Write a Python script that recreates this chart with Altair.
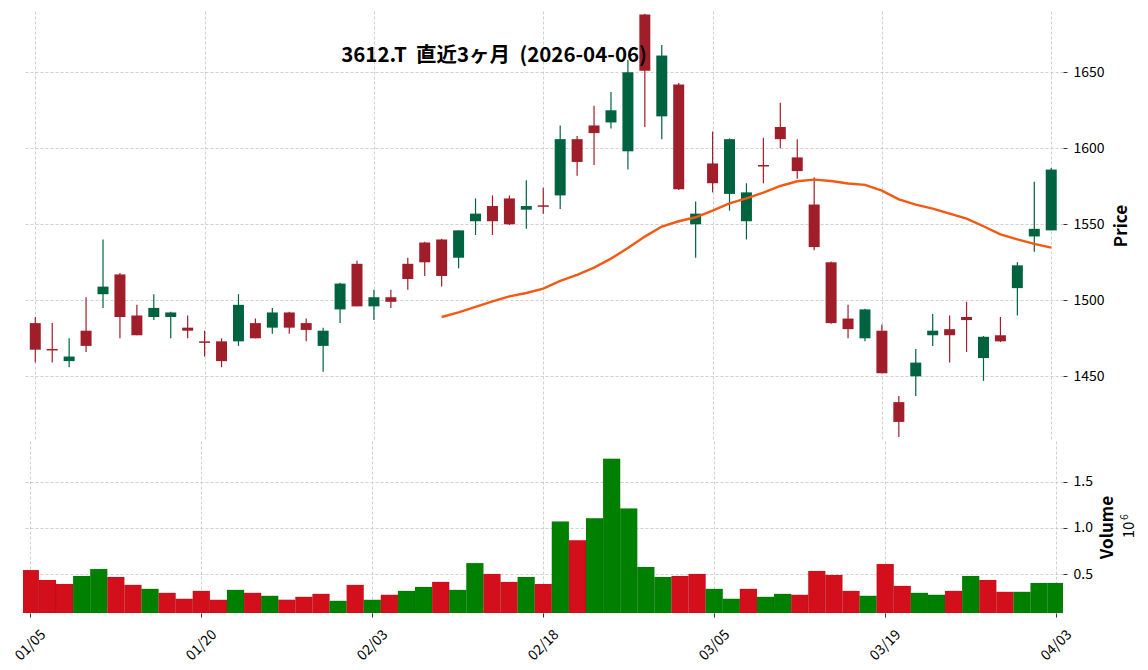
import altair as alt
import pandas as pd

# ---------------- data ----------------
dates = ["01/05", "01/06", "01/07", "01/08", "01/09", "01/13", "01/14", "01/15", "01/16", "01/19",
         "01/20", "01/21", "01/22", "01/23", "01/26", "01/27", "01/28", "01/29", "01/30", "02/02",
         "02/03", "02/04", "02/05", "02/06", "02/09", "02/10", "02/12", "02/13", "02/16", "02/17",
         "02/18", "02/19", "02/20", "02/24", "02/25", "02/26", "02/27", "03/02", "03/03", "03/04",
         "03/05", "03/06", "03/09", "03/10", "03/11", "03/12", "03/13", "03/16", "03/17", "03/18",
         "03/19", "03/23", "03/24", "03/25", "03/26", "03/27", "03/30", "03/31", "04/01", "04/02",
         "04/03"]

opens = [1485, 1468, 1460, 1480, 1504, 1517, 1490, 1489, 1489, 1482,
         1473, 1473, 1473, 1485, 1482, 1492, 1485, 1470, 1494, 1524,
         1496, 1502, 1524, 1538, 1540, 1528, 1552, 1562, 1567, 1559.6,
         1562.5, 1569, 1606, 1615, 1617, 1598, 1688, 1621, 1642, 1550,
         1590, 1570, 1552, 1589, 1614, 1594, 1563, 1525, 1488, 1475,
         1480, 1433, 1450, 1477, 1481, 1489, 1462, 1477, 1508, 1542,
         1546]
highs = [1489, 1485, 1475, 1502, 1540, 1518, 1497, 1504, 1492.5, 1490,
         1480, 1475, 1504, 1488, 1495, 1492.5, 1488, 1482, 1511.5, 1526,
         1507, 1507, 1528, 1538.5, 1540.5, 1546, 1567, 1569, 1569, 1579,
         1574, 1615, 1608, 1628, 1637, 1658, 1688.5, 1668, 1643, 1565,
         1611, 1606.5, 1577, 1607, 1630, 1606, 1581, 1525.5, 1497, 1494.5,
         1484, 1437, 1468, 1491, 1490, 1499, 1476.5, 1489, 1525, 1578,
         1587]
lows = [1459, 1459, 1456, 1466, 1495, 1475, 1477, 1487, 1475, 1475,
        1463, 1456, 1470, 1475, 1478, 1478, 1473, 1453, 1485, 1496,
        1487, 1495, 1507, 1516, 1509, 1521, 1543, 1543, 1549.5, 1547,
        1557, 1560, 1582, 1589, 1613, 1586, 1614, 1606, 1572.5, 1528,
        1571, 1559, 1540, 1577, 1600, 1580, 1533, 1484.5, 1475, 1473,
        1452, 1410, 1437, 1470, 1459, 1466, 1447, 1472.5, 1490, 1532,
        1546]
closes = [1467.5, 1467, 1463, 1470, 1509, 1489, 1477, 1495, 1492, 1480,
          1472, 1460, 1497, 1475, 1492, 1482, 1480.5, 1480, 1511, 1496,
          1502, 1499, 1514, 1525, 1516, 1546, 1557, 1552, 1550, 1562,
          1561.5, 1606, 1591, 1610, 1625, 1650, 1651, 1661, 1573, 1557,
          1577, 1606, 1571, 1588, 1606, 1585, 1535, 1485, 1481, 1494,
          1452, 1420, 1459, 1480, 1477, 1487, 1476, 1473, 1523, 1547,
          1586]

# volume in millions (axis shows x10^6)
volumes = [0.546, 0.439, 0.396, 0.482, 0.557, 0.471, 0.386, 0.343, 0.300, 0.236,
           0.321, 0.225, 0.332, 0.300, 0.268, 0.225, 0.257, 0.289, 0.214, 0.386,
           0.225, 0.279, 0.321, 0.364, 0.418, 0.332, 0.621, 0.504, 0.418, 0.471,
           0.396, 1.071, 0.868, 1.104, 1.746, 1.211, 0.579, 0.471, 0.482, 0.504,
           0.343, 0.236, 0.343, 0.257, 0.289, 0.279, 0.536, 0.493, 0.321, 0.268,
           0.611, 0.375, 0.300, 0.279, 0.321, 0.482, 0.439, 0.311, 0.311, 0.407,
           0.407]
# 1 = green volume bar, 0 = red volume bar
vol_up = [0, 0, 0, 1, 1, 0, 0, 1, 0, 0,
          0, 0, 1, 0, 1, 0, 0, 0, 1, 0,
          1, 0, 1, 1, 0, 1, 1, 0, 0, 1,
          0, 1, 0, 1, 1, 1, 1, 1, 0, 0,
          1, 1, 0, 1, 1, 0, 0, 0, 0, 1,
          0, 0, 1, 1, 0, 1, 0, 0, 1, 1,
          1]

# 25-day moving average, from index 24 onwards
ma_start = 24
ma25 = [1489, 1492, 1495.6, 1499.3, 1502.6, 1504.8, 1507.7, 1512.7, 1516.7, 1521.5,
        1527.4, 1534.4, 1541.9, 1548.5, 1552, 1554.6, 1559, 1563.8, 1567, 1570.8,
        1575.2, 1578.3, 1579.4, 1578.5, 1576.8, 1575.9, 1572.1, 1566.4, 1562.9, 1560.3,
        1557, 1553.7, 1548.7, 1543.4, 1540.1, 1537.1, 1534.6]

tick_idx = [0, 10, 20, 30, 40, 50, 60]
price_ticks = [1450, 1500, 1550, 1600, 1650]
vol_ticks = [0.5, 1.0, 1.5]
title_text = "3612.T \u00a0直近3ヶ月 \u00a0(2026-04-06)"
vol_exp_base = "10"
vol_exp_power = "6"

# ---------------- styling ----------------
FONT = "Noto Sans CJK JP"
UP_C = "#006340"
DOWN_C = "#a01e2a"
VUP_C = "#008000"
VDOWN_C = "#d40f1c"
MA_C = "#f25a14"

W = 1040
P_H = 429
V_H = 172
X_DOM = [-0.43, 60.4]
P_DOM = [1408.1, 1690.3]
V_DOM = [0.083, 1.938]

df = pd.DataFrame({
    "i": list(range(len(dates))),
    "date": dates,
    "open": opens, "high": highs, "low": lows, "close": closes,
    "vol": volumes, "vup": vol_up,
})
ma_df = pd.DataFrame({"i": list(range(ma_start, ma_start + len(ma25))), "ma": ma25})

xscale = alt.Scale(domain=X_DOM, nice=False, zero=False)
pscale = alt.Scale(domain=P_DOM, nice=False, zero=False)
vscale = alt.Scale(domain=V_DOM, nice=False, zero=False)

x_axis_top = alt.Axis(values=tick_idx, labels=False, ticks=False, domain=False, title=None, grid=True)
label_expr = "[" + ",".join("'%s'" % d for d in dates) + "][datum.value]"
x_axis_bottom = alt.Axis(values=tick_idx, labelExpr=label_expr, labelAngle=315, labelAlign="center",
                         labelBaseline="middle", labelPadding=28, tickSize=4, domain=False,
                         title=None, grid=True, labelFontSize=14)

price_axis = alt.Axis(orient="right", values=price_ticks, format="d", tickSize=4, labelPadding=6,
                      title="Price", titleAngle=270, titleBaseline="top", titlePadding=9, grid=True)
vol_axis = alt.Axis(orient="right", values=vol_ticks, format=".1f", tickSize=4, labelPadding=6,
                    title="Volume", titleAngle=270, titleBaseline="top", titlePadding=7, grid=True)

candle_color = alt.condition("datum.close >= datum.open", alt.value(UP_C), alt.value(DOWN_C))

wick = alt.Chart(df).mark_rule(strokeWidth=1.2).encode(
    x=alt.X("i:Q", scale=xscale, axis=x_axis_top),
    y=alt.Y("low:Q", scale=pscale, axis=price_axis),
    y2="high:Q",
    color=candle_color,
)
body = alt.Chart(df).mark_bar(size=11).encode(
    x=alt.X("i:Q", scale=xscale, axis=x_axis_top),
    y=alt.Y("open:Q", scale=pscale, axis=price_axis),
    y2="close:Q",
    color=candle_color,
)
ma_line = alt.Chart(ma_df).mark_line(color=MA_C, strokeWidth=2.4).encode(
    x=alt.X("i:Q", scale=xscale, axis=x_axis_top),
    y=alt.Y("ma:Q", scale=pscale, axis=price_axis),
)
title_mark = alt.Chart(pd.DataFrame({"t": [title_text]})).mark_text(
    fontSize=20.5, fontWeight="bold", align="center", baseline="middle", font=FONT, color="black"
).encode(x=alt.value(471), y=alt.value(45), text="t:N")

price = alt.layer(wick, body, ma_line, title_mark).properties(width=W, height=P_H)

vbars = alt.Chart(df).transform_calculate(
    x0="datum.i - 0.5", x1="datum.i + 0.5"
).mark_bar(clip=True, stroke="#000000", strokeOpacity=0.12, strokeWidth=0.6).encode(
    x=alt.X("x0:Q", scale=xscale, axis=x_axis_bottom),
    x2="x1:Q",
    y=alt.Y("vol:Q", scale=vscale, axis=vol_axis),
    y2=alt.datum(V_DOM[0]),
    color=alt.condition("datum.vup == 1", alt.value(VUP_C), alt.value(VDOWN_C)),
)
vexp_base = alt.Chart(pd.DataFrame({"t": [vol_exp_base]})).mark_text(
    fontSize=15, angle=270, align="center", baseline="middle", font=FONT, color="black"
).encode(x=alt.value(1106), y=alt.value(89), text="t:N")
vexp_pow = alt.Chart(pd.DataFrame({"t": [vol_exp_power]})).mark_text(
    fontSize=10.5, angle=270, align="center", baseline="middle", font=FONT, color="black"
).encode(x=alt.value(1101.5), y=alt.value(76), text="t:N")

volume = alt.layer(vbars, vexp_base, vexp_pow).properties(width=W, height=V_H)

chart = alt.vconcat(price, volume, spacing=1).properties(
    padding={"left": 4, "top": 3, "right": 3, "bottom": 0}
).configure(font=FONT).configure_view(stroke=None).configure_axis(
    labelFontSize=14, labelColor="black", tickColor="#333333", tickWidth=1,
    gridColor="#c4c4c4", gridDash=[3, 2], gridWidth=0.8,
    titleFontSize=17, titleFontWeight="bold", titleColor="black", domain=False,
)

chart.save("out.html", embed_options={"renderer": "svg", "actions": False})
